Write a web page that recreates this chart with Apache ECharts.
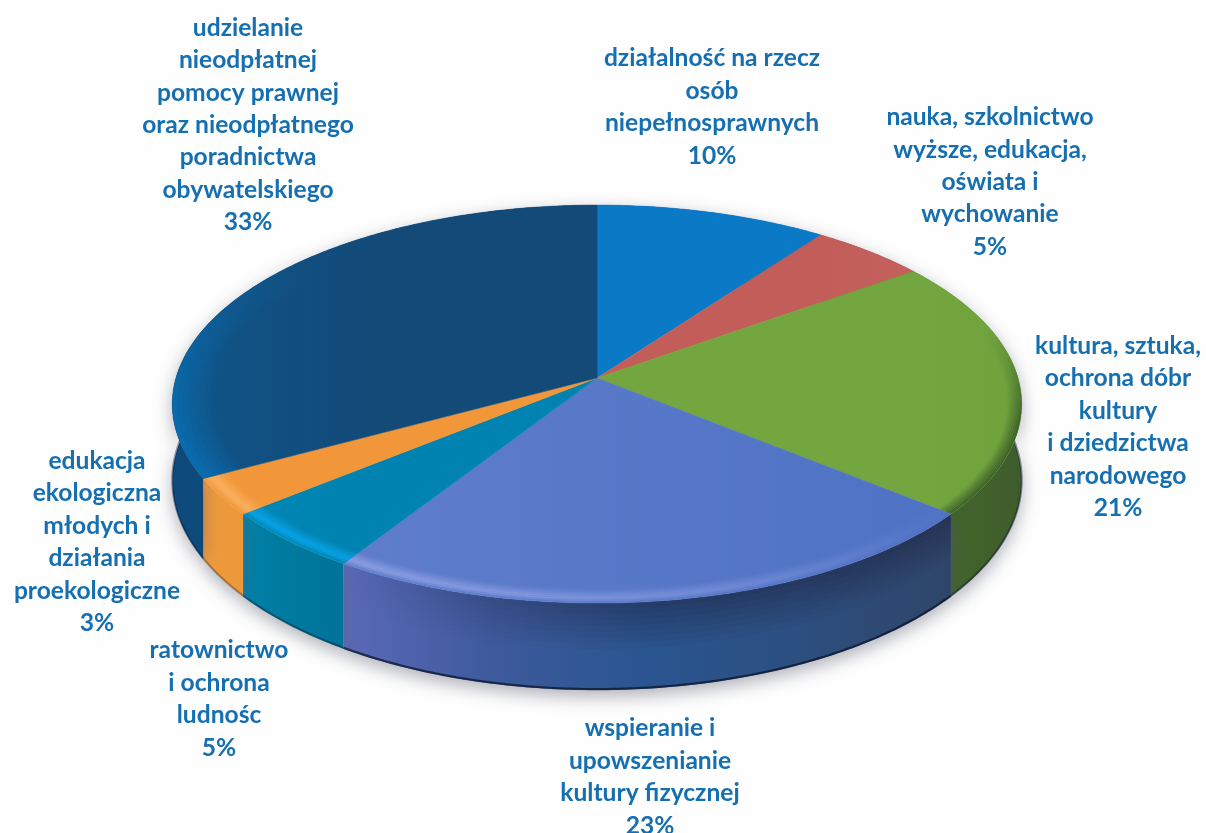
<!DOCTYPE html>
<html><head><meta charset="utf-8">
<style>html,body{margin:0;padding:0;background:#fefefe}#c{width:1206px;height:833px;filter:blur(0.55px)}</style>
<script src="https://cdn.jsdelivr.net/npm/echarts@6/dist/echarts.min.js"></script>
</head><body><div id="c"></div>
<script>
// ---- data ----
const categories = [
  'działalność na rzecz\nosób\nniepełnosprawnych',
  'nauka, szkolnictwo\nwyższe, edukacja,\noświata i\nwychowanie',
  'kultura, sztuka,\nochrona dóbr\nkultury\ni dziedzictwa\nnarodowego',
  'wspieranie i\nupowszenianie\nkultury fizycznej',
  'ratownictwo\ni ochrona\nludnośc',
  'edukacja\nekologiczna\nmłodych i\ndziałania\nproekologiczne',
  'udzielanie\nnieodpłatnej\npomocy prawnej\noraz nieodpłatnego\nporadnictwa\nobywatelskiego'
];
const values = [10, 5, 21, 23, 5, 3, 33];

// ---- styling and layout ----
const topColors = [
  ['#0a79c6','#0a79c6'], ['#c25d59','#c4615c'], ['#74a63f','#6fa23c'],
  ['#5f7dcb','#4f72c4'], ['#0087b6','#0083b0'], ['#f39a3d','#f19639'], ['#0f5488','#134a78','#134a78']
];
const wallColors = [
  ['#0a5f9e','#0a5f9e'], ['#8f3f3c','#8f3f3c'], ['#3a5a2c','#41632a','#3f5c2c'],
  ['#5a69b8','#3d5a9c','#2a5590','#2c4f80','#2f4568'], ['#0080a8','#007a9e','#007299'],
  ['#f09a3c','#ec973a'], ['#0e4a7c','#0e4270']
];
const rimOutline = [0, 0, 0.45, 0.8, 0.4, 0.3, 0.4];
// soft rim shading: colour, fade along the rim, radial band, peak position and strength
const bevels = [
  null, null,
  { rgb: '45,75,35', dir: 'v', fade: [0, 1, 1], r0: 0.965, r1: 1, at: 1, peak: 0.8 },
  { rgb: '150,165,232', dir: 'h', fade: [1, 0.8, 0.5, 0], r0: 0.945, r1: 1, at: 0.98, peak: 0.85 },
  { rgb: '8,165,236', dir: 'h', fade: [1, 1], r0: 0.945, r1: 1, at: 0.98, peak: 0.95 },
  { rgb: '250,180,100', dir: 'h', fade: [1, 1], r0: 0.945, r1: 1, at: 0.98, peak: 0.9 },
  { rgb: '8,112,182', dir: 'v', fade: [0, 0.7, 1], r0: 0.9, r1: 1, at: 1, peak: 0.95 }
];
const STRIPS = 8;
const labelAt = [[712,107],[990,182],[1118,427],[650,777],[219,699],[97,542],[248,125]];
const LABEL_FONT = 'bold 24.6px Lato, "Open Sans", sans-serif';
const LABEL_COLOR = '#156fb0', LINE_H = 32.4;
// projective view of a round disc: centre, radii, perspective, extrusion
const CX = 597, CY = 378, RX = 421, RY = 195.6, K = 0.131, DEPTH = 75.6;

const total = values.reduce((a, b) => a + b, 0);
const rows = values.map((v, i) => [v, values.slice(0, i).reduce((a, b) => a + b, 0), i]);

function rim(a, r, h) {           // a: clockwise from top (rad), r: radius fraction, h: drop
  const u = r * Math.sin(a), v = -r * Math.cos(a), s = 1 / (1 - K * v);
  return [CX + RX * u * s, CY + RY * v * s + h * s];
}
function arc(a0, a1, r, h) {
  const n = Math.max(2, Math.ceil((a1 - a0) / 0.012)), p = [];
  for (let i = 0; i <= n; i++) p.push(rim(a0 + (a1 - a0) * i / n, r, h));
  return p;
}
function angles(api) {
  const v = api.value(0), c = api.value(1), T = 2 * Math.PI / total;
  return [c * T, (c + v) * T];
}
function stops(list) {
  return list.map((color, i) => ({ offset: i / Math.max(1, list.length - 1), color }));
}
function grad(dir, pts, list) {
  const vals = pts.map(p => dir === 'h' ? p[0] : p[1]);
  const lo = Math.min(...vals), hi = Math.max(...vals);
  return dir === 'h'
    ? new echarts.graphic.LinearGradient(lo, 0, hi, 0, stops(list), true)
    : new echarts.graphic.LinearGradient(0, lo, 0, hi, stops(list), true);
}

function renderWall(params, api) {
  const [a0, a1] = angles(api), i = api.value(2);
  const up = arc(a0, a1, 1, 0), low = arc(a0, a1, 1, DEPTH);
  const kids = [
    { type: 'polygon', shape: { points: up.concat(low.slice().reverse()) },
      style: { fill: grad('h', up, wallColors[i]), shadowColor: 'rgba(90,95,110,0.5)', shadowBlur: 18, shadowOffsetY: 6 } }
  ];
  if (i === 3) {               // the wall is darkest just under the rim
    for (let s = 0; s < STRIPS; s++) {
      const h0 = s * 5, h1 = h0 + 5, al = 0.5 * (1 - s / STRIPS);
      const p = arc(a0, a1, 1, h0);
      kids.push({ type: 'polygon', shape: { points: p.concat(arc(a0, a1, 1, h1).reverse()) },
        style: { fill: grad('h', p, ['rgba(30,35,65,0)', 'rgba(30,35,65,' + al + ')', 'rgba(30,35,65,' + al + ')']) } });
    }
  }
  kids.push({ type: 'polyline', shape: { points: low.map(p => [p[0], p[1] - 1]) },
    style: { fill: null, stroke: 'rgba(15,25,50,' + rimOutline[i] + ')', lineWidth: 2.2 } });
  return { type: 'group', children: kids };
}
function renderTop(params, api) {
  const [a0, a1] = angles(api), i = api.value(2);
  const edge = arc(a0, a1, 1, 0);
  const children = [{ type: 'polygon', shape: { points: [[CX, CY]].concat(edge) },
    style: { fill: grad('h', edge, topColors[i]), stroke: topColors[i][1], lineWidth: 0.5 } }];
  const b = bevels[i];
  if (b) {
    const s = Math.max(a0, Math.PI * 0.42), e = Math.min(a1, Math.PI * 1.72);
    const base = arc(s, e, 1, 0);
    for (let k = 0; k < STRIPS; k++) {
      const ra = b.r0 + (b.r1 - b.r0) * k / STRIPS, rb = b.r0 + (b.r1 - b.r0) * (k + 1) / STRIPS;
      const mid = (ra + rb) / 2;
      const t = mid <= b.at ? (mid - b.r0) / (b.at - b.r0) : (b.r1 - mid) / (b.r1 - b.at);
      const list = b.fade.map(f => 'rgba(' + b.rgb + ',' + (b.peak * t * f).toFixed(3) + ')');
      children.push({ type: 'polygon', shape: { points: arc(s, e, ra, 0).concat(arc(s, e, rb, 0).reverse()) },
        style: { fill: grad(b.dir, base, list) } });
    }
  }
  return { type: 'group', children };
}
function renderLabel(params, api) {
  const i = api.value(2), t = categories[i] + '\n' + api.value(0) + '%';
  return { type: 'text', style: { text: t, x: labelAt[i][0], y: labelAt[i][1], align: 'center',
    verticalAlign: 'middle', font: LABEL_FONT, lineHeight: LINE_H, fill: LABEL_COLOR } };
}

const chart = echarts.init(document.getElementById('c'), null, { renderer: 'canvas' });
chart.setOption({
  backgroundColor: '#fefefe', animation: false,
  series: [
    { type: 'custom', coordinateSystem: 'none', z: 1, data: rows, renderItem: renderWall, silent: true },
    { type: 'custom', coordinateSystem: 'none', z: 2, data: rows, renderItem: renderTop, silent: true },
    { type: 'custom', coordinateSystem: 'none', z: 3, data: rows, renderItem: renderLabel, silent: true }
  ]
});
</script></body></html>
